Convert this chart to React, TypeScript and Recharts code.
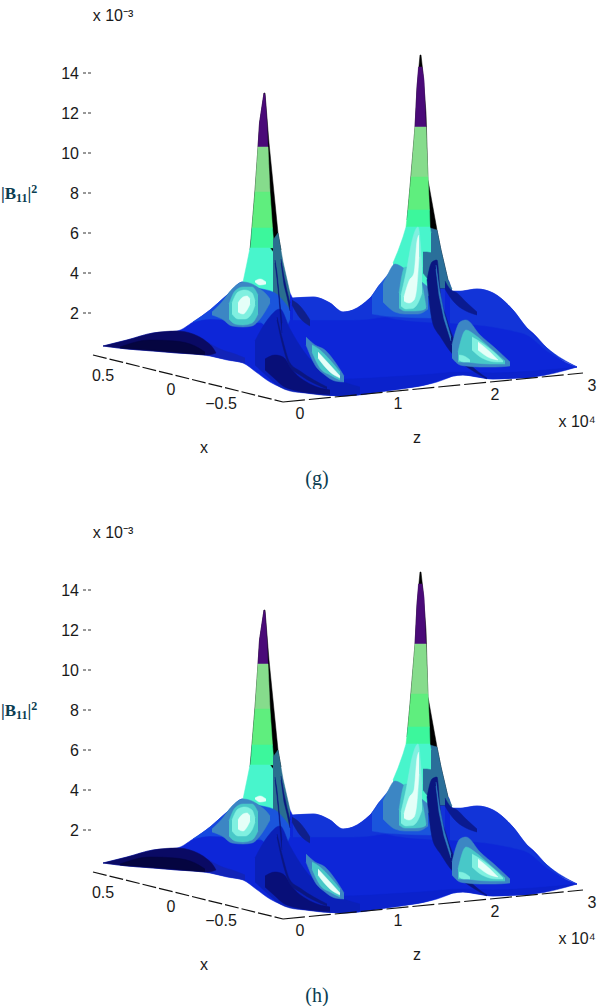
import { ComposedChart, Area, Line, XAxis, YAxis, ReferenceDot } from 'recharts';

// every band is [projected position, upper value, lower value], values in 10^-5
type Band = [number, number, number][];

const yTicks = [200, 400, 600, 800, 1000, 1200, 1400];
const xAxisEdge = [[93, -10], [283, -245]];
const zAxisEdge = [[283, -245], [583, -100]];

const base: Band = [
  [103, 35, 35], [127, 65, 20], [153, 100, 10], [177, 110, 0], [193, 155, -5], [210, 215, -15],
  [227, 290, -35], [243, 355, -50], [256, 355, -95], [270, 355, -145], [283, 340, -175], [290, 300, -185],
  [293, 275, -190], [313, 280, -200], [330, 250, -210], [343, 205, -215], [353, 215, -210], [370, 275, -200],
  [383, 355, -190], [395, 365, -180], [420, 365, -165], [437, 365, -145], [448, 365, -125], [453, 300, -115],
  [463, 310, -110], [477, 320, -120], [493, 300, -130], [513, 215, -125], [527, 125, -125], [533, 100, -120],
  [547, 25, -100], [562, -35, -85], [577, -70, -70],
];
const shoulder: Band = [[193, 155, 155], [210, 215, 170], [227, 290, 165], [243, 355, 160], [262, 355, 150]];
const farRidge: Band = [
  [293, 275, 165], [313, 280, 165], [330, 250, 165], [343, 205, 165], [353, 215, 165], [370, 275, 170],
  [385, 350, 180], [395, 365, 170], [445, 365, 150],
];
const farRight: Band = [
  [450, 310, 150], [463, 310, 145], [477, 320, 140], [493, 300, 130], [513, 215, 110], [527, 125, 90], [547, 25, 10], [577, -70, -70],
];
const foreground: Band = [
  [300, -110, -195], [345, -130, -215], [387, -120, -190], [420, -110, -165], [463, -95, -110], [493, -100, -130], [533, -90, -120], [577, -70, -70],
];
const darkPatch: Band = [
  [103, 35, 35], [127, 65, 20], [153, 100, 10], [177, 110, 0], [193, 95, -5], [207, 55, -10], [213, 25, -5], [216, 0, 0],
];
const darkPatchCore: Band = [[120, 30, 25], [150, 65, 15], [175, 60, 5], [195, 35, -5], [205, 5, -8]];
const tail: Band = [[207, 55, -10], [220, 20, -25], [235, -5, -40], [245, -25, -50]];

const leftBlack: Band = [
  [250, 515, 325], [252, 630, 325], [255, 815, 325], [258, 1030, 325], [259.5, 1150, 325], [264, 1300, 325],
  [265, 1300, 325], [269, 1050, 325], [273, 850, 325], [278, 600, 325], [281, 515, 325],
];
const leftPurple: Band = [[258, 1030, 1030], [259.5, 1150, 1030], [264, 1300, 1030], [265, 1290, 1030], [267, 1150, 1030], [268, 1030, 1030]];
const leftPale: Band = [[255, 805, 805], [258, 1030, 805], [268, 1030, 805], [270, 805, 805]];
const leftGreen: Band = [[252, 625, 625], [255, 805, 625], [270, 805, 625], [272.5, 625, 625]];
const leftMint: Band = [[250.5, 525, 525], [252, 625, 525], [272.5, 625, 525], [274, 525, 525]];
const leftTeal: Band = [[243, 355, 355], [247, 450, 350], [250, 525, 345], [260, 525, 320], [270, 525, 300], [274, 500, 300]];
const leftSteel: Band = [[273, 565, 290], [278, 600, 260], [283, 455, 240], [290, 300, 215]];
const leftBody: Band = [[250, 330, 200], [262, 320, 150], [275, 300, 100], [285, 250, 120], [290, 215, 170]];
const leftHalo: Band = [[212, 205, 190], [222, 255, 170], [232, 320, 135], [243, 355, 130], [252, 345, 135], [260, 320, 170], [266, 295, 215], [270, 270, 250]];
const leftTurq: Band = [[229, 245, 170], [235, 310, 145], [243, 330, 140], [252, 330, 150], [258, 290, 195]];
const leftGlow: Band = [[232, 250, 195], [238, 305, 170], [245, 315, 170], [252, 300, 200], [255, 260, 240]];
const leftCore: Band = [[238, 250, 205], [243, 280, 195], [247, 285, 215], [250, 270, 245]];
const leftBlob: Band = [[255, 360, 355], [260, 370, 340], [266, 355, 345]];
const leftLineA: Band = [[275, 465, 450], [277, 400, 370], [279, 300, 270], [281, 200, 150], [282, 150, 100]];
const leftLineB: Band = [[281, 470, 450], [284, 380, 340], [287, 310, 280], [290, 250, 210]];
const leftBase: Band = [[255, 60, -60], [268, 170, -120], [280, 220, -170], [290, 120, -190], [305, 0, -200], [330, -110, -212], [360, -170, -205]];
const leftBaseCore: Band = [[265, -30, -85], [275, -10, -130], [283, -20, -165], [293, -90, -185], [310, -155, -200], [330, -185, -208]];
const leftCurve: Band = [[277, 180, 165], [283, 60, 30], [290, -50, -70], [300, -90, -110], [327, -170, -180]];
const ridgeShadow: Band = [[292, 265, 240], [300, 235, 175], [310, 165, 135]];
const midStreak: Band = [[306, 80, 40], [315, 40, -60], [325, 15, -110], [335, -45, -140], [344, -115, -145]];
const midTurq: Band = [[312, 40, 5], [320, 15, -75], [330, -35, -110], [340, -95, -135]];
const midCore: Band = [[318, 5, -25], [330, -60, -95], [340, -115, -125]];

const rightBlack: Band = [
  [407, 665, 325], [410, 830, 325], [415, 1130, 325], [417, 1330, 325], [420, 1490, 325], [421, 1490, 325],
  [423, 1400, 325], [426, 1200, 325], [428, 865, 325], [437, 615, 325], [441, 515, 325], [448, 365, 325],
];
const rightPurple: Band = [[415, 1130, 1130], [417, 1330, 1130], [418.5, 1430, 1130], [422, 1430, 1130], [424, 1365, 1130], [426, 1130, 1130]];
const rightPale: Band = [[411, 880, 880], [415, 1130, 880], [426, 1130, 880], [428, 880, 880]];
const rightGreen: Band = [[408, 715, 715], [411, 880, 715], [428, 880, 715], [429.5, 715, 715]];
const rightMint: Band = [[406, 630, 630], [408, 715, 630], [429.5, 715, 630], [430, 630, 630]];
const rightTeal: Band = [[393, 450, 430], [398, 510, 340], [403, 580, 270], [406, 630, 250], [430, 630, 290], [431, 600, 320]];
const rightSteel: Band = [[430, 625, 325], [437, 615, 325], [441, 515, 325], [448, 365, 325], [452, 320, 300]];
const rightBody: Band = [[372, 285, 195], [385, 375, 185], [400, 440, 180], [430, 300, 175], [436, 250, 190]];
const rightHalo: Band = [[383, 345, 255], [387, 385, 235], [395, 445, 205], [405, 420, 195], [418, 370, 195], [428, 330, 220]];
const rightTurq: Band = [[399, 300, 225], [405, 430, 210], [415, 420, 210], [423, 320, 215], [426, 230, 225]];
const rightGlow: Band = [[401, 290, 235], [406, 400, 220], [412, 560, 222], [418, 630, 250], [422, 430, 300]];
const rightCore: Band = [[404, 280, 260], [409, 360, 250], [414, 400, 265], [417, 560, 340], [419, 590, 480]];
const rightPatch: Band = [[423, 505, 400], [427, 505, 375], [433, 500, 375]];
const rightRidge: Band = [[427, 365, 365], [432, 455, 165], [437, 465, 105], [440, 315, 85], [447, 165, 30], [458, 30, -35], [470, -55, -80], [487, -125, -130]];
const rightStripe: Band = [[436, 440, 420], [439, 330, 290], [444, 200, 170], [451, 80, 60]];
const rightShadow: Band = [[445, 360, 320], [450, 320, 280], [457, 300, 240], [466, 255, 210], [477, 205, 190]];
const streak: Band = [[452, 40, -25], [460, 155, -60], [466, 165, -65], [480, 90, -70], [495, 25, -70], [510, -45, -65]];
const streakTurq: Band = [[458, 5, -45], [466, 115, -45], [475, 90, -50], [490, 25, -55], [505, -40, -55]];
const streakGlow: Band = [[472, 80, 15], [482, 50, -25], [497, -10, -45], [503, -40, -45]];
const streakCore: Band = [[478, 55, 15], [490, 5, -25], [498, -35, -35]];
const streakFoot: Band = [[459, -10, -35], [464, -15, -45], [470, -35, -45]];

const blue = '#1a55dc';
const steel = '#3c86c4';
const turq = '#48c8c8';
const pale = '#80f0e0';
const white = '#e5fff8';
const navy = '#0a1680';
const layers: { band: Band; fill: string; sharp?: boolean }[] = [
  { band: base, fill: '#0d26d8' },
  { band: shoulder, fill: '#1548e0' },
  { band: farRidge, fill: '#1234d8' },
  { band: farRight, fill: '#1234d8' },
  { band: foreground, fill: '#0b22cc' },
  { band: tail, fill: '#1224b8' },
  { band: darkPatch, fill: '#0a0a64' },
  { band: darkPatchCore, fill: '#050540' },
  { band: leftBlack, fill: '#000000', sharp: true },
  { band: leftPurple, fill: '#4a0a78', sharp: true },
  { band: leftPale, fill: '#86dc8c', sharp: true },
  { band: leftGreen, fill: '#5fee7e', sharp: true },
  { band: leftMint, fill: '#3cf79c', sharp: true },
  { band: leftTeal, fill: '#48f5cc', sharp: true },
  { band: leftSteel, fill: '#2a6f8f', sharp: true },
  { band: leftBody, fill: blue },
  { band: leftHalo, fill: steel },
  { band: leftTurq, fill: turq },
  { band: leftGlow, fill: pale },
  { band: leftCore, fill: white },
  { band: leftBlob, fill: white },
  { band: leftBase, fill: '#0a20b8' },
  { band: leftBaseCore, fill: '#080f78' },
  { band: leftCurve, fill: navy },
  { band: leftLineA, fill: navy, sharp: true },
  { band: leftLineB, fill: navy, sharp: true },
  { band: ridgeShadow, fill: '#0f1f8a' },
  { band: midStreak, fill: steel },
  { band: midTurq, fill: turq },
  { band: midCore, fill: white },
  { band: rightBlack, fill: '#000000', sharp: true },
  { band: rightPurple, fill: '#4a0a78', sharp: true },
  { band: rightPale, fill: '#86dc8c', sharp: true },
  { band: rightGreen, fill: '#5fee7e', sharp: true },
  { band: rightMint, fill: '#3cf79c', sharp: true },
  { band: rightSteel, fill: '#2a6f9a', sharp: true },
  { band: rightBody, fill: blue },
  { band: rightTeal, fill: '#48f5cc', sharp: true },
  { band: rightHalo, fill: steel },
  { band: rightTurq, fill: turq },
  { band: rightGlow, fill: pale },
  { band: rightCore, fill: white },
  { band: rightPatch, fill: '#2a6f9a', sharp: true },
  { band: rightRidge, fill: navy },
  { band: rightStripe, fill: '#2f7fc0', sharp: true },
  { band: rightShadow, fill: '#0a1a90' },
  { band: streak, fill: steel },
  { band: streakTurq, fill: turq },
  { band: streakGlow, fill: pale },
  { band: streakCore, fill: white },
  { band: streakFoot, fill: pale },
];

const narrow = '"Liberation Sans Narrow", "Liberation Sans", sans-serif';
const serif = '"Liberation Serif", serif';
const ink = '#0a3d52';

document.body.style.margin = '0';

const note = (x: number, y: number, text: string, size = 16, family = narrow, fill = '#1a1a1a') => (
  <ReferenceDot
    key={text + x}
    x={x}
    y={y}
    r={0}
    ifOverflow="visible"
    stroke="none"
    fill="none"
    label={{ value: text, position: 'center', fontSize: size, fontFamily: family, fill }}
  />
);

// |B11|^2 needs real sub and superscripts, so the dot's shape draws the text
const quantityLabel = (props: { cx?: number; cy?: number }) => (
  <text x={props.cx} y={props.cy} fontFamily={serif} fontWeight={700} fontSize={17} fill={ink}>
    |B
    <tspan fontSize={12} dy={3}>11</tspan>
    <tspan dy={-3}>|</tspan>
    <tspan fontSize={12} dy={-6}>2</tspan>
  </text>
);

function Panel({ tag, top }: { tag: string; top: number }) {
  return (
    <div style={{ position: 'absolute', left: 0, top, width: 599, height: 489 }}>
      <ComposedChart width={599} height={489} margin={{ top: 0, right: 0, bottom: 0, left: 0 }}>
        <XAxis type="number" dataKey="x" domain={[92, 599]} hide allowDataOverflow />
        <YAxis
          type="number"
          width={92}
          domain={[-680, 1765]}
          ticks={yTicks}
          tickFormatter={(v) => String(v / 100)}
          axisLine={false}
          tickSize={9}
          tickMargin={4}
          tick={{ fontSize: 16, fontFamily: narrow, fill: '#1a1a1a' }}
          tickLine={{ stroke: '#333', strokeDasharray: '3 2' }}
          allowDataOverflow
        />
        <Line data={xAxisEdge.map(([x, v]) => ({ x, v }))} dataKey="v" stroke="#111" strokeWidth={1.2} strokeDasharray="14 3" dot={false} isAnimationActive={false} />
        <Line data={zAxisEdge.map(([x, v]) => ({ x, v }))} dataKey="v" stroke="#111" strokeWidth={1.2} strokeDasharray="22 4" dot={false} isAnimationActive={false} />
        {layers.map((l, i) => (
          <Area
            key={i}
            data={l.band.map(([x, hi, lo]) => ({ x, range: [lo, hi] }))}
            dataKey="range"
            type={l.sharp ? 'linear' : 'monotone'}
            fill={l.fill}
            fillOpacity={1}
            stroke={l.fill}
            strokeWidth={0.5}
            dot={false}
            activeDot={false}
            isAnimationActive={false}
          />
        ))}
        {note(113, 1690, 'x 10⁻³')}
        <ReferenceDot x={1} y={770} r={0} ifOverflow="visible" shape={quantityLabel} />
        {note(103, -110, '0.5')}
        {note(171, -180, '0')}
        {note(221, -250, '−0.5')}
        {note(300, -300, '0')}
        {note(398, -250, '1')}
        {note(495, -205, '2')}
        {note(592, -160, '3')}
        {note(577, -340, 'x 10⁴')}
        {note(204, -470, 'x')}
        {note(417, -420, 'z')}
        {note(317, -625, tag, 20, serif, ink)}
      </ComposedChart>
    </div>
  );
}

export default function App() {
  return (
    <div style={{ position: 'relative', width: 599, height: 1006, background: '#fff' }}>
      <Panel tag="(g)" top={0} />
      <Panel tag="(h)" top={517} />
    </div>
  );
}
